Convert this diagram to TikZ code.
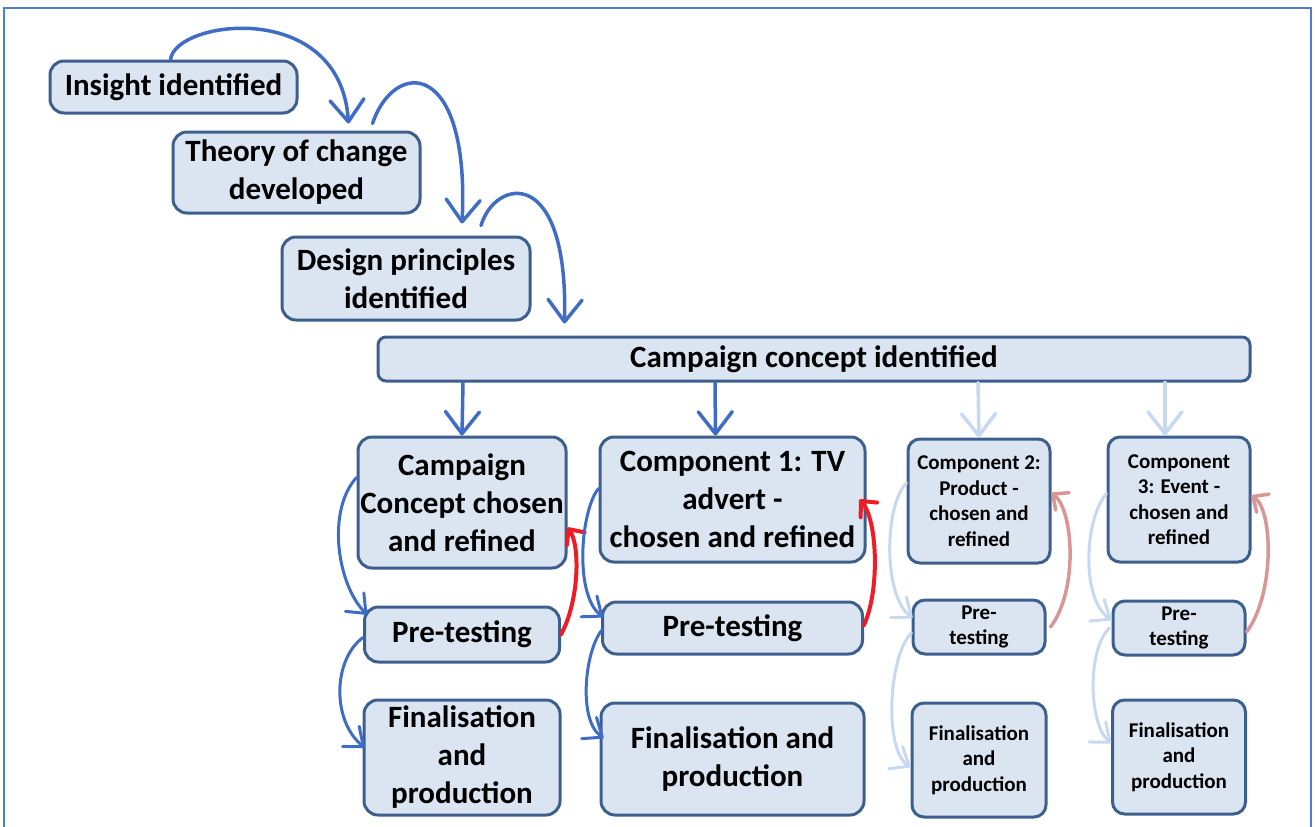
\documentclass[tikz,border=0pt]{standalone}
\usepackage{fontspec}
\setmainfont{Carlito}
\usepackage{xcolor}
\usepackage{tikz}
\usetikzlibrary{arrows.meta,positioning}
\definecolor{boxfill}{HTML}{DBE5F1}
\definecolor{boxline}{HTML}{3D5F8E}
\definecolor{linkblue}{HTML}{3F6CC4}
\definecolor{linkpale}{HTML}{C6D9F0}
\definecolor{backred}{HTML}{EE1C25}
\definecolor{backpink}{HTML}{D99694}
\definecolor{framecol}{HTML}{4F7CCB}

\begin{document}
\begin{tikzpicture}[x=1pt, y=-1pt]
        \tikzset{box/.style={draw=boxline, fill=boxfill, line width=3pt, rounded corners=14pt, align=center, inner sep=0pt, font=\bfseries\fontsize{31}{38}\selectfont}}
        \tikzset{smallbox/.style={box, rounded corners=12pt, font=\bfseries\fontsize{21}{25.5}\selectfont}}
        \tikzset{flow/.style={draw=linkblue, line width=3.5pt, line cap=round, -{Straight Barb[length=22pt,width=34pt,round]}}}
        \tikzset{paleflow/.style={flow, draw=linkpale}}
        \tikzset{side/.style={draw=linkblue, line width=3pt, line cap=round, -{Straight Barb[length=16pt,width=26pt,round]}}}
        \tikzset{paleside/.style={side, draw=linkpale}}
        \tikzset{loopback/.style={draw=backred, line width=4pt, line cap=round, -{Straight Barb[length=12pt,width=22pt,round]}}}
        \tikzset{paleback/.style={loopback, draw=backpink, line width=3.5pt}}

        \useasboundingbox (0,0) rectangle (1315,827);
        \draw[framecol, line width=2pt] (4,840) -- (4,8) -- (1311,8) -- (1311,840);

        \node [box, minimum width=247pt, minimum height=52pt] (ins) at (173.5,87) {Insight identified};
        \node [box, minimum width=247pt, minimum height=81pt] (thy) at (296.5,172.5) {Theory of change\\developed};
        \node [box, minimum width=248pt, minimum height=83pt] (des) at (406,278.5) {Design principles\\identified};
        \node [box, minimum width=872pt, minimum height=44pt, rounded corners=8pt] (con) at (814,359) {Campaign concept identified};

        \node [box, minimum width=208pt, minimum height=131pt] (c0) at (462,502.5) {Campaign\\Concept chosen\\and refined};
        \node [box, minimum width=265pt, minimum height=125pt] (c1) at (732.5,499.5) {Component 1: TV\\advert -\\chosen and refined};
        \node [smallbox, minimum width=142pt, minimum height=124pt] (c2) at (979,501) {Component 2:\\Product -\\chosen and\\refined};
        \node [smallbox, minimum width=142pt, minimum height=125pt] (c3) at (1179,499.5) {Component\\3: Event -\\chosen and\\refined};

        \node [box, minimum width=195pt, minimum height=55pt, below=36pt of c0] (p0) {Pre-testing};
        \node [box, minimum width=260pt, minimum height=52pt, below=37pt of c1] (p1) {Pre-testing};
        \node [smallbox, minimum width=132pt, minimum height=54pt, below=34pt of c2] (p2) {Pre-\\testing};
        \node [smallbox, minimum width=132pt, minimum height=54pt, below=36pt of c3] (p3) {Pre-\\testing};

        \node [box, minimum width=196pt, minimum height=115pt, below=35pt of p0] (f0) {Finalisation\\and\\production};
        \node [box, minimum width=263pt, minimum height=112pt, below=46pt of p1] (f1) {Finalisation and\\production};
        \node [smallbox, minimum width=134pt, minimum height=114pt, below=46pt of p2] (f2) {Finalisation\\and\\production};
        \node [smallbox, minimum width=133pt, minimum height=114pt, below=42pt of p3] (f3) {Finalisation\\and\\production};

        \draw [flow] ([xshift=-3pt]ins.north) .. controls +(5,-40) and +(-8,-125) .. ([xshift=52pt,yshift=7pt]thy.north);
        \draw [flow] ([xshift=76pt,yshift=7pt]thy.north) .. controls +(22,-65) and +(8,-165) .. ([xshift=56pt,yshift=12pt]des.north);
        \draw [flow] ([xshift=75pt,yshift=10pt]des.north) .. controls +(14,-47) and +(4,-160) .. ([xshift=188pt,yshift=12pt]con.north west);

        \draw [flow] ([xshift=-351pt]con.south) -- (c0.north);
        \draw [flow] ([xshift=-99pt]con.south) -- ([xshift=-17pt]c1.north);
        \draw [paleflow] ([xshift=164pt]con.south) -- (c2.north);
        \draw [paleflow] ([xshift=351pt]con.south) -- ([xshift=-14pt]c3.north);

        \draw [side] ([yshift=25pt]c0.west) .. controls +(-30,33) and +(-30,-30) .. ([xshift=4pt,yshift=20pt]p0.west);
        \draw [side] ([yshift=-3pt]p0.west) .. controls +(-30,22) and +(-33,-27) .. ([xshift=2pt,yshift=10pt]f0.west);
        \draw [loopback] (p0.east) .. controls +(18,-33) and +(13,18) .. ([yshift=-25pt]c0.east);

        \draw [side] ([yshift=11pt]c1.west) .. controls +(-18,22) and +(-29,-22) .. ([xshift=2pt,yshift=11pt]p1.west);
        \draw [side] ([xshift=1pt,yshift=-2pt]p1.west) .. controls +(-17,20) and +(-26,-18) .. ([xshift=4pt,yshift=21pt]f1.west);
        \draw [loopback] ([yshift=3pt]p1.east) .. controls +(16,-35) and +(18,20) .. ([xshift=-7pt]c1.east);

        \draw [paleside] ([yshift=18pt]c2.west) .. controls +(-22,22) and +(-30,-23) .. ([xshift=1pt,yshift=9pt]p2.west);
        \draw [paleside] ([yshift=-6pt]p2.west) .. controls +(-23,22) and +(-27,-17) .. ([yshift=-7pt]f2.west);
        \draw [paleback] ([xshift=4pt]p2.east) .. controls +(28,-37) and +(22,17) .. ([yshift=8pt]c2.east);

        \draw [paleside] ([yshift=6pt]c3.west) .. controls +(-23,27) and +(-30,-20) .. ([yshift=8pt]p3.west);
        \draw [paleside] ([xshift=-2pt]p3.west) .. controls +(-23,22) and +(-22,-18) .. ([yshift=14pt]f3.west);
        \draw [paleback] ([yshift=-4pt]p3.east) .. controls +(28,-37) and +(22,15) .. ([yshift=4pt]c3.east);
    \end{tikzpicture}
\end{document}
